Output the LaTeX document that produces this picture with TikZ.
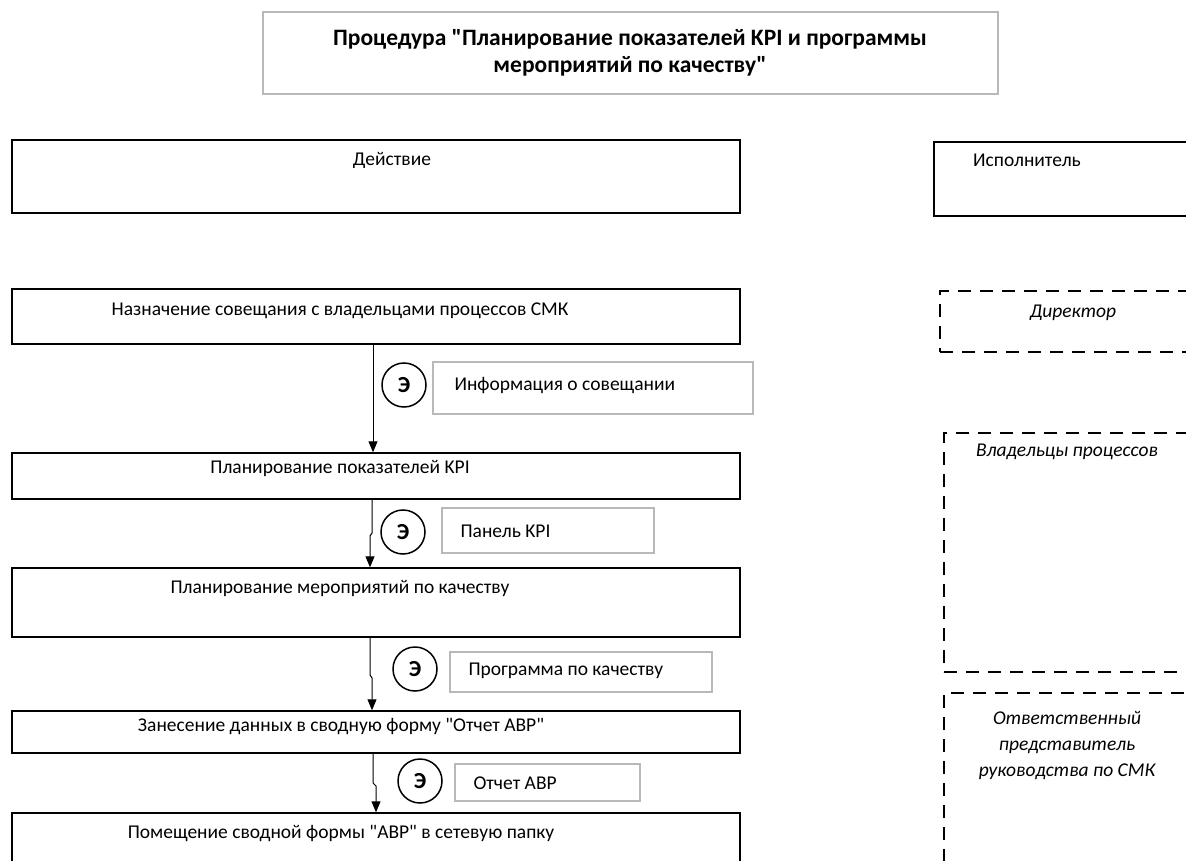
\documentclass[tikz,border=0pt]{standalone}
\usepackage{fontspec}
\setmainfont{Carlito}[Ligatures=TeXOff]
\usetikzlibrary{arrows.meta}

\begin{document}
\begin{tikzpicture}[x=1pt, y=-1pt,
    every node/.style={font=\fontsize{19.5}{27}\selectfont},
    actbox/.style={draw, line width=1.4pt, minimum width=728pt, inner sep=0pt},
    docbox/.style={draw=gray!55, line width=1.3pt, inner sep=0pt},
    whobox/.style={draw, line width=1.8pt, dash pattern=on 13pt off 9pt, inner sep=0pt},
    emark/.style={draw, circle, line width=1.5pt, minimum size=44pt, inner sep=0pt, font=\fontsize{23}{26}\selectfont\bfseries},
    flow/.style={-{Triangle[width=9pt,length=11pt]}, line width=1pt}]
    \clip (0,0) rectangle (1186,861);

    % title
    \node[docbox, minimum width=735pt, minimum height=82pt] (title) at (630.5,53) {};
    \node[align=center, font=\fontsize{23.5}{27}\selectfont\bfseries] (titletext) at (630,53)
        {Процедура "Планирование показателей KPI и программы\\мероприятий по качеству"};

    % column heads
    \node[actbox, minimum height=73pt] (acthead) at (376,176.5) {};
    \node (acttext) at (392,160) {Действие};
    \node[draw, line width=1.4pt, inner sep=0pt, minimum width=270pt, minimum height=74pt] (whohead) at (1069,179) {};
    \node (whotext) at (1027,160) {Исполнитель};

    % actions
    \node[actbox, minimum height=55pt] (b1) at (376,316.5) {};
    \node (t1) at (340,311) {Назначение совещания с владельцами процессов СМК};
    \node[actbox, minimum height=46pt] (b2) at (376,476) {};
    \node (t2) at (340,468) {Планирование показателей KPI};
    \node[actbox, minimum height=69pt] (b3) at (376,602.5) {};
    \node (t3) at (340,588) {Планирование мероприятий по качеству};
    \node[actbox, minimum height=42pt] (b4) at (376,732) {};
    \node (t4) at (341,727) {Занесение данных в сводную форму "Отчет АВР"};
    \node[actbox, minimum height=60pt] (b5) at (376,843) {};
    \node (t5) at (341,834) {Помещение сводной формы "АВР" в сетевую папку};

    % documents
    \node[emark] (e1) at (404,385) {Э};
    \node[docbox, minimum width=320pt, minimum height=52pt] (d1) at (593,388) {};
    \node[anchor=west] (dt1) at (451,386) {Информация о совещании};
    \node[emark] (e2) at (403,532) {Э};
    \node[docbox, minimum width=212pt, minimum height=45pt] (d2) at (548,530.5) {};
    \node[anchor=west] (dt2) at (457,531) {Панель KPI};
    \node[emark] (e3) at (415,669) {Э};
    \node[docbox, minimum width=262pt, minimum height=40pt] (d3) at (581,672) {};
    \node[anchor=west] (dt3) at (465,671) {Программа по качеству};
    \node[emark] (e4) at (420,781) {Э};
    \node[docbox, minimum width=185pt, minimum height=37pt] (d4) at (547.5,782.5) {};
    \node[anchor=west] (dt4) at (470,783) {Отчет АВР};

    % flow
    \draw[flow] (373,0 |- b1.south) -- (373,0 |- b2.north);
    \draw[flow] (372,0 |- b2.south) -- (372,533) -- (370,536) -- (370,0 |- b3.north);
    \draw[flow] (370,0 |- b3.south) -- (370,675) -- (372,678) -- (372,0 |- b4.north);
    \draw[flow] (373,0 |- b4.south) -- (373,783) -- (376,786) -- (376,0 |- b5.north);

    % performers
    \node[whobox, minimum width=260pt, minimum height=61pt] (r1) at (1070,321.5) {};
    \node[font=\fontsize{19.5}{27}\selectfont\itshape] (rt1) at (1073,313) {Директор};
    \node[whobox, minimum width=256pt, minimum height=239pt] (r2) at (1072,552.5) {};
    \node[font=\fontsize{19.5}{27}\selectfont\itshape] (rt2) at (1067,452) {Владельцы процессов};
    \node[whobox, minimum width=256pt, minimum height=190pt] (r3) at (1072,788) {};
    \node[align=center, font=\fontsize{19.5}{26}\selectfont\itshape] (rt3) at (1067,746)
        {Ответственный\\представитель\\руководства по СМК};
\end{tikzpicture}
\end{document}
